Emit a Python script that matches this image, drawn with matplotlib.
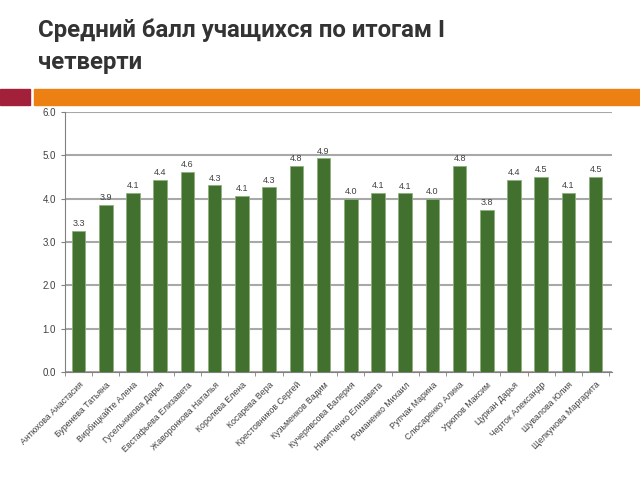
import matplotlib
matplotlib.use('Agg')
import matplotlib.pyplot as plt
import numpy as np

names = ['Антюхова Анастасия', 'Буренева Татьяна', 'Вирбицкайте Алена',
         'Гусельникова Дарья', 'Евстафьева Елизавета', 'Жаворонкова Наталья',
         'Королева Елена', 'Косарева Вера', 'Крестовников Сергей',
         'Кузьменков Вадим', 'Кучерявсова Валерия', 'Никитченко Елизавета',
         'Романенко Михаил', 'Рупчак Марина', 'Слюсаренко Алина',
         'Урюпов Максим', 'Цуркан Дарья', 'Черток Александр',
         'Шувалова Юлия', 'Щелкунова Маргарита']
scores = [3.26, 3.86, 4.14, 4.44, 4.62, 4.31, 4.06, 4.26, 4.76, 4.93,
          4.0, 4.14, 4.12, 4.0, 4.76, 3.75, 4.44, 4.5, 4.14, 4.5]
yticks = [0.0, 1.0, 2.0, 3.0, 4.0, 5.0, 6.0]

plt.rcParams['font.family'] = ['Liberation Sans', 'DejaVu Sans']

fig = plt.figure(figsize=(6.4, 4.8), dpi=100)

# title
title_font = dict(fontsize=17.3, color='#333333', fontweight='bold',
                  va='center', family=['Roboto', 'DejaVu Sans'])
fig.text(38 / 640, 1 - 30 / 480, 'Средний балл учащихся по итогам I', **title_font)
fig.text(38 / 640, 1 - 62 / 480, 'четверти', **title_font)

# decorative stripes
fig.patches.append(plt.Rectangle((0, 1 - 105 / 480), 30 / 640, 16 / 480,
                                 transform=fig.transFigure, color='#a3203a'))
fig.patches.append(plt.Rectangle((34 / 640, 1 - 105 / 480), 606 / 640, 16 / 480,
                                 transform=fig.transFigure, color='#ec8012'))

ax = fig.add_axes([65 / 640, 1 - 372 / 480, 547 / 640, 260 / 480])
x = np.arange(len(names))
ax.bar(x, scores, width=0.5, color='#42702f', edgecolor='#8fb07f',
       linewidth=0.6, zorder=3)
for xi, v in zip(x, scores):
    ax.text(xi, v + 0.06, '%.1f' % v, ha='center', va='bottom',
            fontsize=6.5, color='#404040')

ax.set_ylim(0, 6)
ax.set_xlim(-0.5, len(names) - 0.4)
ax.set_yticks(yticks)
ax.set_yticklabels(['%.1f' % t for t in yticks], fontsize=7, color='#404040')
ax.yaxis.grid(True, color='#a8a8a8', linewidth=1.5, zorder=0)
ax.set_xticks(x)
ax.set_xticklabels(names, rotation=45, ha='right', rotation_mode='anchor',
                   fontsize=6.3, color='#404040')
ax.set_xticks(np.arange(len(names) + 1) - 0.5, minor=True)
ax.tick_params(axis='x', which='major', length=0, pad=6)
ax.tick_params(axis='x', which='minor', length=3, color='#808080')
ax.tick_params(axis='y', length=3, color='#808080')
for s in ['top', 'right']:
    ax.spines[s].set_visible(False)
ax.spines['left'].set_color('#808080')
ax.spines['bottom'].set_color('#808080')

plt.savefig('out.png', dpi=100)
